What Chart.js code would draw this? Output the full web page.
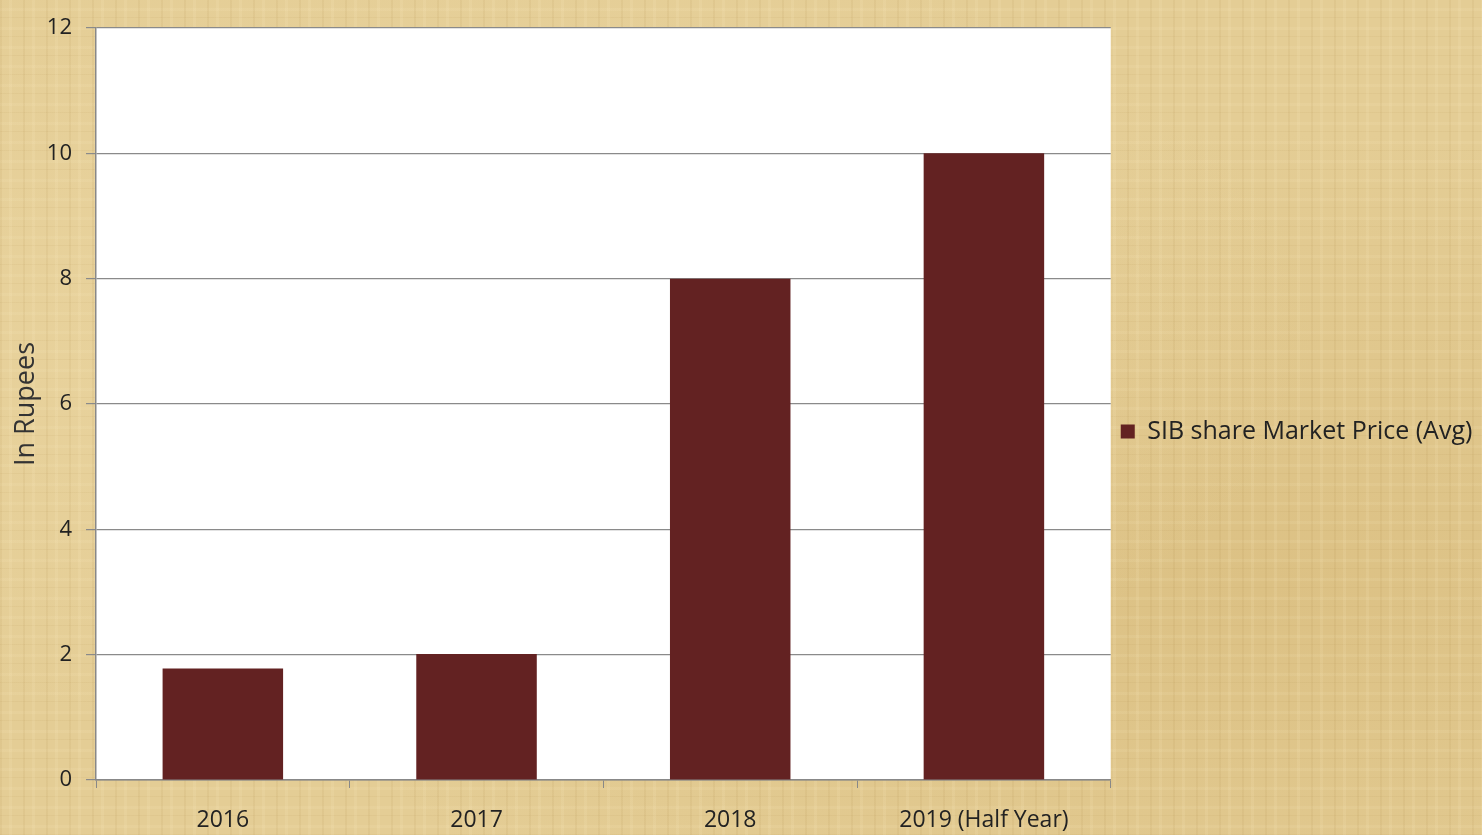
<!DOCTYPE html>
<html lang="en">
<head>
  <meta charset="UTF-8" />
  <title>SIB share Market Price</title>
  <script src="https://cdn.jsdelivr.net/npm/chart.js"></script>
  <style>
    * { margin: 0; padding: 0; box-sizing: border-box; }
    html, body { width: 1482px; height: 835px; overflow: hidden; }
    body {
      background-color: #e4cd95;
      background-image:
        repeating-linear-gradient(90deg, rgba(150,110,40,0.07) 0 2px, transparent 2px 9px, rgba(255,240,200,0.12) 9px 12px, transparent 12px 23px),
        repeating-linear-gradient(0deg, rgba(150,110,40,0.06) 0 1px, transparent 1px 7px, rgba(255,240,200,0.10) 7px 10px, transparent 10px 19px),
        radial-gradient(ellipse at 30% 40%, rgba(240,220,170,0.5), transparent 60%),
        radial-gradient(ellipse at 85% 70%, rgba(205,170,100,0.35), transparent 55%);
    }
    .chart-container { width: 1482px; height: 835px; position: relative; }
  </style>
</head>
<body>
  <div class="chart-container">
    <canvas id="priceChart"></canvas>
  </div>

  <script>
    // Data
    const years = ['2016', '2017', '2018', '2019 (Half Year)'];
    const avgPrice = [1.78, 2.01, 8.0, 10.0];
    const seriesName = 'SIB share Market Price (Avg)';
    const yTicks = [0, 2, 4, 6, 8, 10, 12];

    // white plot area only, the rest stays parchment
    const plotBackground = {
      id: 'plotBackground',
      beforeDraw(chart) {
        const { ctx, chartArea: a } = chart;
        ctx.save();
        ctx.fillStyle = '#ffffff';
        ctx.fillRect(a.left, a.top, a.right - a.left, a.bottom - a.top);
        ctx.restore();
      }
    };

    const ctx = document.getElementById('priceChart').getContext('2d');
    new Chart(ctx, {
      type: 'bar',
      data: {
        labels: years,
        datasets: [{
          label: seriesName,
          data: avgPrice,
          backgroundColor: '#632222',
          borderWidth: 0,
          barPercentage: 0.475,
          categoryPercentage: 1
        }]
      },
      options: {
        responsive: true,
        maintainAspectRatio: false,
        animation: false,
        layout: { padding: { top: 28, right: 3, bottom: 0, left: 6 } },
        plugins: {
          tooltip: { enabled: false },
          legend: {
            position: 'right',
            labels: {
              boxWidth: 14,
              boxHeight: 14,
              padding: 10,
              color: '#222',
              font: { family: 'Open Sans', size: 25 }
            }
          }
        },
        scales: {
          x: {
            afterFit(scale) { scale.height = 55; },
            grid: {
              offset: true,
              drawOnChartArea: false,
              tickLength: 8,
              color: '#888'
            },
            border: { color: '#888', width: 1.5 },
            ticks: {
              color: '#222',
              padding: 19,
              font: { family: 'Open Sans', size: 23 }
            }
          },
          y: {
            min: 0,
            max: 12,
            afterBuildTicks(scale) {
              scale.ticks = yTicks.map(v => ({ value: v }));
            },
            afterFit(scale) { scale.width = 90; },
            grid: { color: '#8a8a8a', lineWidth: 1.2, tickLength: 10 },
            border: { color: '#888', width: 1.5 },
            ticks: {
              color: '#222',
              padding: 14,
              font: { family: 'Open Sans', size: 22 }
            },
            title: {
              display: true,
              text: 'In Rupees',
              color: '#333',
              font: { family: 'Open Sans', size: 27 }
            }
          }
        }
      },
      plugins: [plotBackground]
    });
  </script>
</body>
</html>
